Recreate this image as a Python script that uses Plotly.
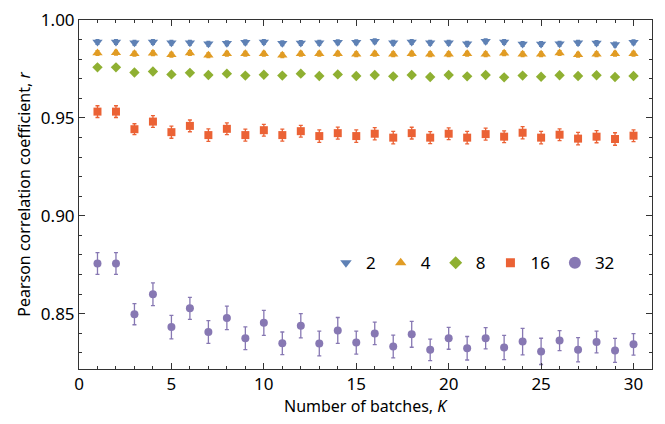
import plotly.graph_objects as go

K = list(range(1, 31))

r_2 = [0.9887, 0.9887, 0.9884, 0.9887, 0.9884, 0.9884, 0.9879, 0.9881, 0.9886, 0.9887,
       0.9881, 0.9882, 0.9884, 0.9886, 0.9886, 0.9891, 0.9884, 0.9887, 0.9884, 0.9884,
       0.9879, 0.9892, 0.9887, 0.9877, 0.9877, 0.9879, 0.9884, 0.9882, 0.9875, 0.9886]
err_2 = [0.0012] * 30

r_4 = [0.9832, 0.9833, 0.9827, 0.9830, 0.9822, 0.9832, 0.9820, 0.9828, 0.9827, 0.9827,
       0.9820, 0.9828, 0.9827, 0.9827, 0.9825, 0.9828, 0.9825, 0.9827, 0.9825, 0.9825,
       0.9828, 0.9825, 0.9830, 0.9825, 0.9825, 0.9832, 0.9822, 0.9825, 0.9827, 0.9828]
err_4 = [0.0012] * 30

r_8 = [0.9758, 0.9758, 0.9732, 0.9737, 0.9722, 0.9730, 0.9719, 0.9726, 0.9716, 0.9720,
       0.9716, 0.9726, 0.9714, 0.9722, 0.9714, 0.9719, 0.9712, 0.9719, 0.9709, 0.9719,
       0.9712, 0.9719, 0.9707, 0.9716, 0.9710, 0.9718, 0.9714, 0.9718, 0.9709, 0.9714]
err_8 = [0.0010] * 30

r_16 = [0.9532, 0.9532, 0.9442, 0.9481, 0.9427, 0.9459, 0.9412, 0.9444, 0.9412, 0.9437,
        0.9412, 0.9432, 0.9407, 0.9422, 0.9407, 0.9419, 0.9399, 0.9422, 0.9399, 0.9419,
        0.9399, 0.9417, 0.9404, 0.9424, 0.9399, 0.9414, 0.9394, 0.9404, 0.9392, 0.9409]
err_16 = [0.0030, 0.0030, 0.0028, 0.0030, 0.0031, 0.0030, 0.0032, 0.0030, 0.0031, 0.0030,
          0.0031, 0.0030, 0.0032, 0.0031, 0.0032, 0.0031, 0.0032, 0.0030, 0.0031, 0.0030,
          0.0032, 0.0031, 0.0030, 0.0031, 0.0032, 0.0030, 0.0032, 0.0031, 0.0032, 0.0030]

r_32 = [0.8756, 0.8756, 0.8497, 0.8599, 0.8431, 0.8527, 0.8406, 0.8478, 0.8374, 0.8453,
        0.8348, 0.8438, 0.8347, 0.8414, 0.8352, 0.8399, 0.8332, 0.8394, 0.8315, 0.8374,
        0.8323, 0.8374, 0.8327, 0.8357, 0.8307, 0.8362, 0.8315, 0.8355, 0.8312, 0.8343]
err_32 = [0.0056, 0.0056, 0.0054, 0.0058, 0.0060, 0.0056, 0.0058, 0.0060, 0.0058, 0.0064,
          0.0058, 0.0062, 0.0063, 0.0066, 0.0059, 0.0057, 0.0058, 0.0066, 0.0055, 0.0056,
          0.0060, 0.0054, 0.0062, 0.0068, 0.0067, 0.0051, 0.0062, 0.0056, 0.0061, 0.0055]

labels = ["2", "4", "8", "16", "32"]
series = [r_2, r_4, r_8, r_16, r_32]
errors = [err_2, err_4, err_8, err_16, err_32]
colors = ["#5E81B5", "#E19C24", "#8FB032", "#EB6235", "#8778B3"]
symbols = ["triangle-down", "triangle-up", "diamond", "square", "circle"]
sizes = [9, 9, 8, 8, 8]
legend_sizes = [10, 10, 10, 9, 12]

FONT = "Noto Sans"
fig = go.Figure()

for lab, y, e, c, s, sz in zip(labels, series, errors, colors, symbols, sizes):
    fig.add_trace(go.Scatter(
        x=K, y=y, mode="markers", showlegend=False,
        marker=dict(symbol=s, size=sz, color=c, line=dict(width=0)),
        error_y=dict(type="data", array=e, visible=True, color=c, thickness=1.3, width=2),
    ))

for lab, c, s, lsz in zip(labels, colors, symbols, legend_sizes):
    fig.add_trace(go.Scatter(
        x=[None], y=[None], mode="markers", name=lab, showlegend=True,
        marker=dict(symbol=s, size=lsz, color=c, line=dict(width=0)),
    ))

axis_common = dict(
    showline=True, linecolor="#333333", linewidth=1, mirror="allticks",
    ticks="inside", ticklen=6, tickwidth=1, tickcolor="#333333",
    showgrid=False, zeroline=False, automargin=False, ticklabeloverflow="allow",
    tickfont=dict(family=FONT, size=17, color="#000000"),
)

fig.update_layout(
    width=657, height=416,
    margin=dict(l=71, r=13, t=12, b=55),
    paper_bgcolor="white", plot_bgcolor="white",
    font=dict(family=FONT, size=16, color="#000000"),
    xaxis=dict(
        range=[0, 31], tickmode="array", tickvals=[0, 5, 10, 15, 20, 25, 30],
        minor=dict(tickmode="array", tickvals=list(range(0, 32)), ticks="inside",
                   ticklen=3, tickcolor="#333333", tickwidth=1),
        **axis_common,
    ),
    yaxis=dict(
        range=[0.8217, 1.0], tickmode="array", tickvals=[0.85, 0.90, 0.95, 1.00],
        ticktext=["0.85", "0.90", "0.95", "1.00"],
        minor=dict(tickmode="array", tickvals=[0.82 + 0.01 * i for i in range(19)], ticks="inside",
                   ticklen=3, tickcolor="#333333", tickwidth=1),
        title=dict(text="Pearson correlation coefficient, <i>r</i>", font=dict(family=FONT, size=16), standoff=6),
        **axis_common,
    ),
    legend=dict(
        orientation="h", x=0.431, y=0.303, xanchor="left", yanchor="middle",
        bgcolor="rgba(0,0,0,0)", font=dict(family=FONT, size=17), itemwidth=30,
    ),
    annotations=[dict(
        text="Number of batches, <i>K</i>", xref="paper", yref="paper",
        x=0.5, y=-0.105, xanchor="center", yanchor="middle", showarrow=False,
        font=dict(family=FONT, size=16, color="#000000"),
    )],
)

fig.write_html("out.html")
